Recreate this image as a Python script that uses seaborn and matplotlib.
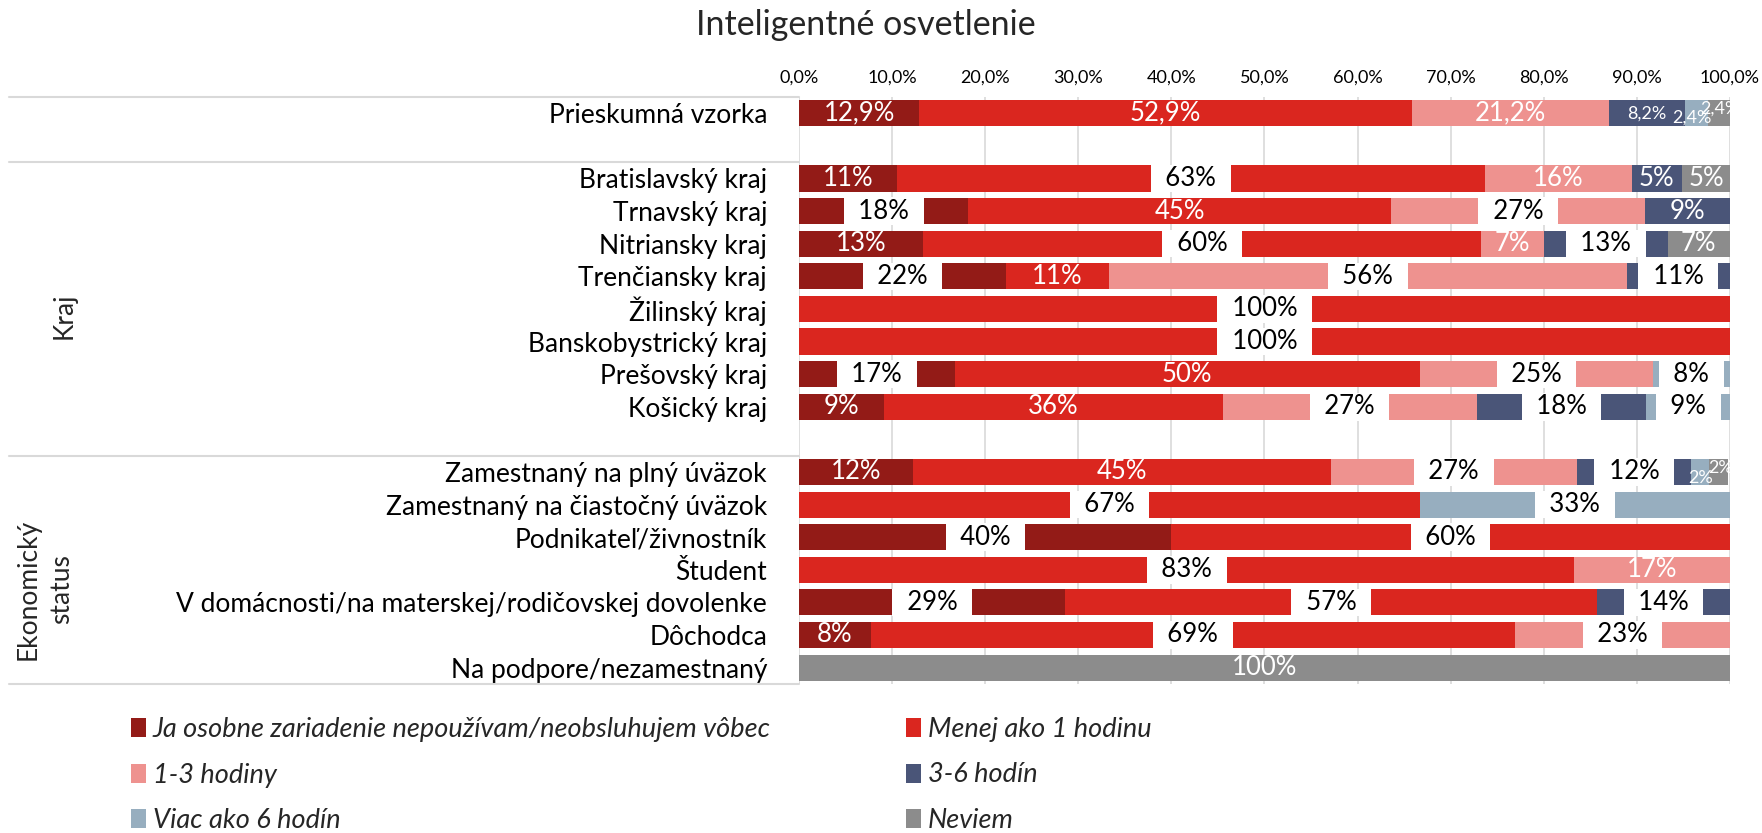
import pandas as pd
import seaborn as sns
import matplotlib.pyplot as plt
from matplotlib.patches import Patch
from matplotlib.lines import Line2D
from matplotlib.transforms import blended_transform_factory

title = "Inteligentné osvetlenie"

categories = [
    "Prieskumná vzorka",
    "Bratislavský kraj", "Trnavský kraj", "Nitriansky kraj", "Trenčiansky kraj",
    "Žilinský kraj", "Banskobystrický kraj", "Prešovský kraj", "Košický kraj",
    "Zamestnaný na plný úväzok", "Zamestnaný na čiastočný úväzok",
    "Podnikateľ/živnostník", "Študent",
    "V domácnosti/na materskej/rodičovskej dovolenke", "Dôchodca",
    "Na podpore/nezamestnaný",
]
groups = ["Kraj", "Ekonomický\nstatus"]

series_names = [
    "Ja osobne zariadenie nepoužívam/neobsluhujem vôbec",
    "Menej ako 1 hodinu",
    "1-3 hodiny",
    "3-6 hodín",
    "Viac ako 6 hodín",
    "Neviem",
]

# percentages per category (same order as categories)
nepouzivam = [12.9, 10.5, 18.2, 13.3, 22.2, 0, 0, 16.7, 9.1, 12.2, 0, 40.0, 0, 28.6, 7.7, 0]
menej_1h = [52.9, 63.2, 45.4, 60.0, 11.1, 100, 100, 50.0, 36.4, 44.9, 66.7, 60.0, 83.3, 57.1, 69.2, 0]
hod_1_3 = [21.2, 15.8, 27.3, 6.7, 55.6, 0, 0, 25.0, 27.3, 26.5, 0, 0, 16.7, 0, 23.1, 0]
hod_3_6 = [8.2, 5.3, 9.1, 13.3, 11.1, 0, 0, 0, 18.2, 12.2, 0, 0, 0, 14.3, 0, 0]
viac_6 = [2.4, 0, 0, 0, 0, 0, 0, 8.3, 9.1, 2.0, 33.3, 0, 0, 0, 0, 0]
neviem = [2.4, 5.3, 0, 6.7, 0, 0, 0, 0, 0, 2.0, 0, 0, 0, 0, 0, 100]

colors = ["#931B17", "#DA261F", "#EE928F", "#4A5578", "#97AEBF", "#8C8C8C"]

# axis rows, the blank ones are spacers between the groups
row_order = [categories[0], " "] + categories[1:9] + ["  "] + categories[9:]

# labels drawn black on a white box (the rest are white on the bar)
boxed = {(1, 1), (2, 0), (2, 2), (3, 1), (3, 3), (4, 0), (4, 2), (4, 3),
         (5, 1), (6, 1), (7, 0), (7, 2), (7, 4), (8, 2), (8, 3), (8, 4),
         (9, 2), (9, 3), (10, 1), (10, 4), (11, 0), (11, 1), (12, 1),
         (13, 0), (13, 1), (13, 3), (14, 1), (14, 2)}
# small labels on the thin segments, with a nudge in points
small = {(0, 3): (0, 0), (0, 4): (-3, -3), (0, 5): (1, 3), (9, 4): (0, -4), (9, 5): (1, 3)}

sns.set_theme(style="white")
plt.rcParams["font.family"] = ["Lato", "DejaVu Sans"]
FS = 19

data = pd.DataFrame({"category": categories})
for name, vals in zip(series_names, [nepouzivam, menej_1h, hod_1_3, hod_3_6, viac_6, neviem]):
    data[name] = vals
cum = data[series_names].cumsum(axis=1)

fig = plt.figure(figsize=(17.62, 8.33), dpi=100)
ax_left, ax_bottom, ax_w, ax_h = 0.4535, 0.179, 0.5283, 0.7046
ax = fig.add_axes([ax_left, ax_bottom, ax_w, ax_h])

# stacked bars: draw the cumulative totals from the last series backwards
for name, color in reversed(list(zip(series_names, colors))):
    sns.barplot(x=cum[name], y=data["category"], order=row_order, color=color,
                orient="h", width=0.8, errorbar=None, linewidth=0,
                saturation=1, ax=ax)

ax.set_xlim(0, 100)
ax.set_ylim(len(row_order) - 0.5, -0.5)
ticks = list(range(0, 101, 10))
ax.set_xticks(ticks)
ax.set_xticklabels([f"{t:.1f}".replace(".", ",") + "%" for t in ticks])
ax.xaxis.tick_top()
ax.tick_params(axis="x", length=0, pad=8, labelsize=13, labelcolor="black")
ax.tick_params(axis="y", length=0, pad=23, labelsize=FS, labelcolor="black")
ax.set_xlabel("")
ax.set_ylabel("")
for s in ax.spines.values():
    s.set_visible(False)
ax.grid(axis="x", color="#D9D9D9", linewidth=1.2)
ax.set_axisbelow(True)

# data labels
for i, cat in enumerate(categories):
    y = row_order.index(cat)
    left = 0.0
    for k, name in enumerate(series_names):
        v = data.loc[i, name]
        if v > 0:
            if i == 0:
                txt = f"{v:.1f}".replace(".", ",") + "%"
            else:
                txt = f"{int(v + 0.5)}%"
            xc = left + v / 2
            if (i, k) in boxed:
                ax.text(xc, y, "  " + txt + "  ", ha="center", va="center",
                        fontsize=18.5, color="black",
                        bbox=dict(facecolor="white", edgecolor="none",
                                  boxstyle="square,pad=0.05"))
            elif (i, k) in small:
                ax.annotate(txt, (xc, y), xytext=small[(i, k)],
                            textcoords="offset points", ha="center", va="center",
                            fontsize=13, color="white")
            else:
                ax.text(xc, y, txt, ha="center", va="center", fontsize=18.5, color="white")
        left += v

# group separators and group names on the left
trans = blended_transform_factory(fig.transFigure, ax.transData)
for yline in (-0.5, 1.5, 10.5, 17.5):
    fig.add_artist(Line2D([9 / 1762, ax_left], [yline, yline], transform=trans,
                          color="#D9D9D9", linewidth=1.5))
ax.text(64 / 1762, 6.2, groups[0], transform=trans, rotation=90,
        ha="center", va="center", fontsize=FS)
ax.text(45 / 1762, 14.6, groups[1], transform=trans, rotation=90,
        ha="center", va="center", multialignment="center", fontsize=FS,
        linespacing=1.4)

fig.text(866 / 1762, 1 - 25 / 833, title, ha="center", va="center", fontsize=24.5)

# legend, two columns
handles = [Patch(facecolor=c, edgecolor="none", label=n) for n, c in zip(series_names, colors)]
for cols, xpos in (([0, 2, 4], 131 / 1762), ([1, 3, 5], 906 / 1762)):
    fig.legend(handles=[handles[j] for j in cols], loc="center left",
               bbox_to_anchor=(xpos, 1 - 775 / 833), frameon=False,
               borderpad=0, borderaxespad=0, handlelength=0.55, handleheight=0.7,
               handletextpad=0.25, labelspacing=0.74,
               prop={"size": 19.5, "style": "italic"})

fig.savefig("out.png", dpi=100)
